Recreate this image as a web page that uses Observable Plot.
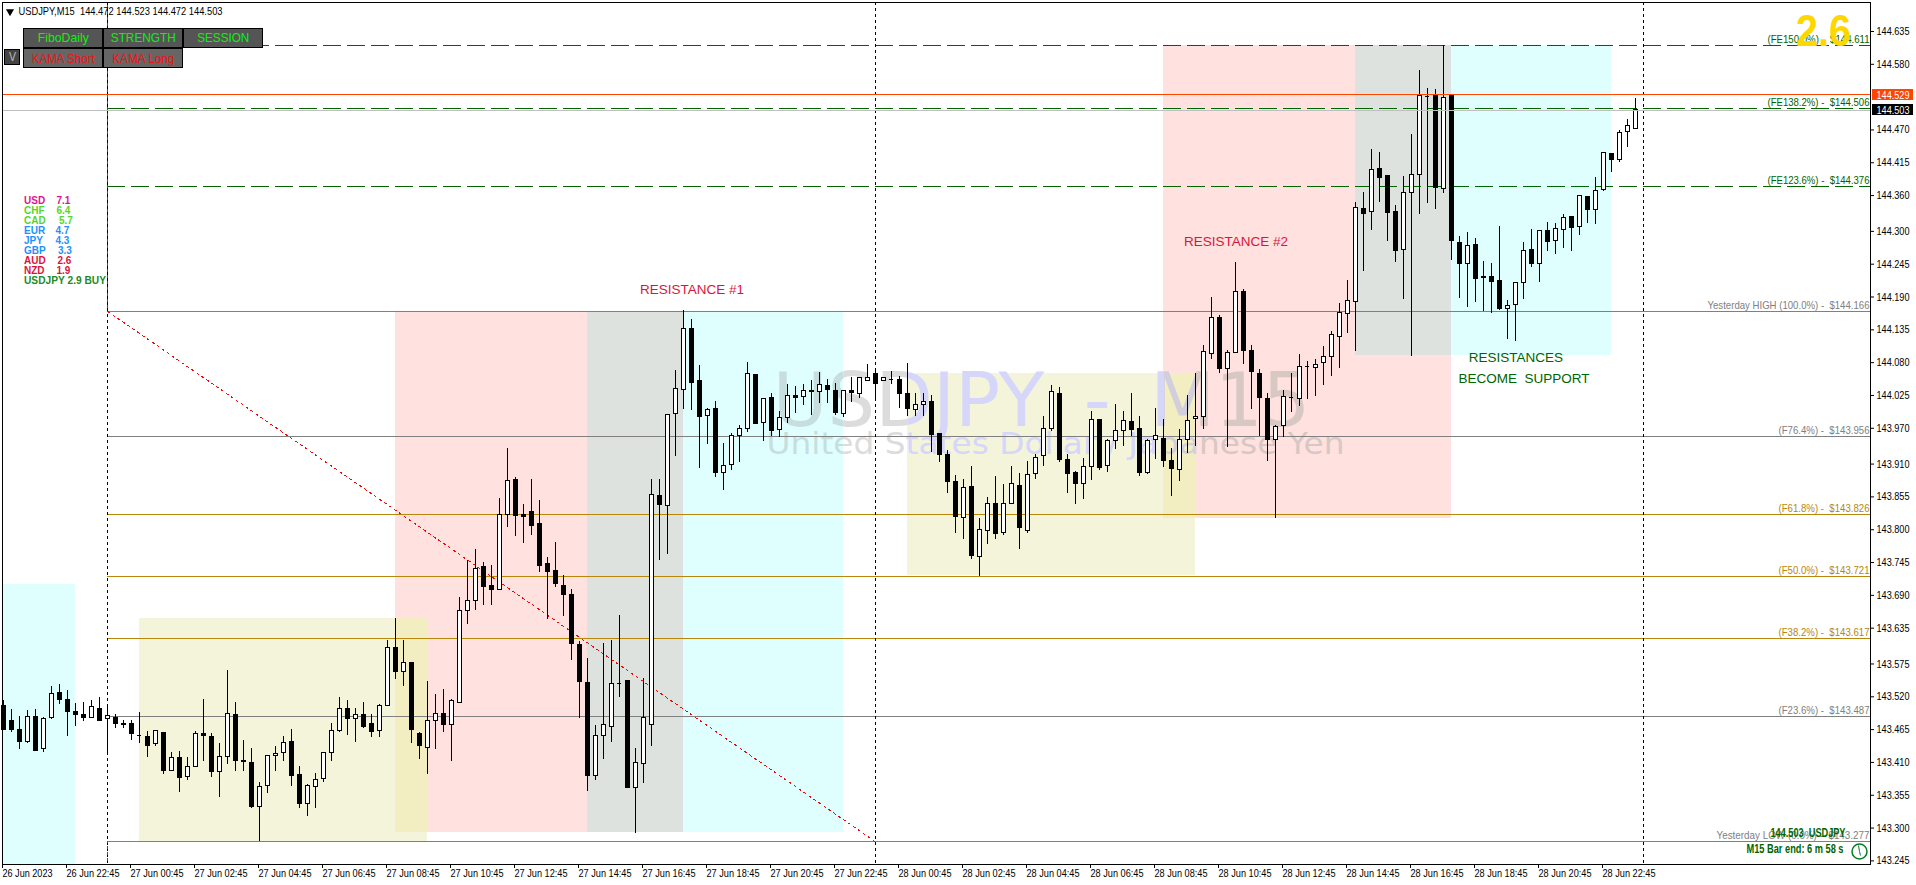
<!DOCTYPE html>
<html><head><meta charset="utf-8">
<script src="https://cdn.jsdelivr.net/npm/d3@7"></script>
<script src="https://cdn.jsdelivr.net/npm/@observablehq/plot@0.6"></script>
<style>html,body{margin:0;padding:0;background:#fff;overflow:hidden}#c{position:relative;width:1916px;height:885px}</style>
</head><body><div id="c"></div>
<script>
const highs=[143.514,143.499,143.487,143.497,143.499,143.485,143.537,143.541,143.531,143.509,
143.510,143.513,143.519,143.505,143.490,143.480,143.480,143.494,143.462,143.464,
143.461,143.426,143.428,143.418,143.462,143.515,143.458,143.441,143.564,143.510,
143.447,143.433,143.376,143.422,143.437,143.453,143.465,143.403,143.373,143.391,
143.427,143.475,143.519,143.514,143.500,143.510,143.490,143.507,143.614,143.651,
143.614,143.576,143.460,143.546,143.524,143.532,143.515,143.686,143.748,143.767,
143.745,143.740,143.852,143.936,143.887,143.842,143.884,143.849,143.753,143.779,
143.724,143.700,143.613,143.584,143.472,143.609,143.614,143.656,143.546,143.433,
143.550,143.884,143.884,143.993,144.067,144.167,144.152,144.075,144.003,144.015,
143.944,143.961,143.974,144.080,144.060,144.019,144.028,143.998,144.043,144.040,
144.043,144.050,144.063,144.052,144.045,144.034,144.055,144.055,144.077,144.067,
144.055,144.065,144.056,144.078,144.028,144.028,144.025,143.961,143.932,143.891,
143.884,143.906,143.818,143.854,143.889,143.876,143.906,143.895,143.914,143.926,
143.990,144.042,144.038,143.926,143.897,143.919,143.998,143.985,143.951,144.010,
143.998,144.028,143.989,143.951,144.003,143.985,143.936,143.968,144.025,144.061,
144.109,144.189,144.159,144.100,144.247,144.202,144.108,144.068,144.028,143.975,
144.034,144.062,144.094,144.082,144.085,144.107,144.132,144.179,144.218,144.348,
144.365,144.437,144.432,144.392,144.343,144.392,144.462,144.570,144.539,144.538,
144.612,144.529,144.291,144.298,144.288,144.250,144.246,144.308,144.184,144.214,
144.281,144.303,144.301,144.315,144.313,144.328,144.325,144.360,144.358,144.390,
144.432,144.429,144.469,144.488,144.523];
const lows=[143.464,143.461,143.431,143.442,143.430,143.427,143.482,143.507,143.453,143.470,
143.479,143.484,143.479,143.423,143.467,143.467,143.447,143.442,143.418,143.436,
143.390,143.395,143.360,143.380,143.402,143.412,143.384,143.352,143.407,143.394,
143.395,143.333,143.277,143.358,143.395,143.412,143.370,143.333,143.319,143.333,
143.377,143.412,143.461,143.455,143.444,143.467,143.452,143.452,143.503,143.549,
143.537,143.442,143.415,143.390,143.431,143.460,143.412,143.509,143.642,143.665,
143.673,143.673,143.698,143.803,143.789,143.777,143.790,143.729,143.650,143.704,
143.655,143.580,143.484,143.362,143.379,143.415,143.444,143.519,143.367,143.291,
143.374,143.436,143.748,143.758,143.923,144.002,144.000,143.902,143.943,143.888,
143.866,143.899,143.913,143.963,143.976,143.948,143.956,143.955,143.978,143.994,
144.008,143.991,144.011,144.011,143.991,143.988,144.013,144.020,144.048,144.020,
144.049,144.044,144.003,143.989,143.989,143.990,143.930,143.913,143.861,143.793,
143.783,143.750,143.722,143.776,143.783,143.791,143.843,143.767,143.793,143.885,
143.906,143.964,143.912,143.860,143.843,143.851,143.882,143.900,143.896,143.935,
143.940,143.956,143.890,143.893,143.917,143.905,143.855,143.881,143.927,143.940,
143.968,144.086,144.062,143.937,144.096,144.077,144.002,143.956,143.915,143.818,
143.955,143.997,144.007,144.018,144.023,144.041,144.057,144.071,144.129,144.098,
144.233,144.302,144.348,144.283,144.247,144.185,144.091,144.329,144.347,144.337,
144.364,144.252,144.188,144.173,144.181,144.166,144.163,144.168,144.118,144.116,
144.185,144.240,144.215,144.266,144.261,144.271,144.266,144.293,144.313,144.312,
144.367,144.399,144.416,144.441,144.472];
const opens=[143.504,143.480,143.465,143.444,143.486,143.433,143.484,143.527,143.515,143.495,
143.489,143.485,143.500,143.483,143.485,143.475,143.475,143.455,143.453,143.441,
143.460,143.396,143.418,143.386,143.403,143.458,143.453,143.394,143.419,143.490,
143.413,143.409,143.336,143.371,143.421,143.426,143.445,143.389,143.340,143.369,
143.383,143.426,143.463,143.500,143.483,143.490,143.474,143.463,143.504,143.602,
143.561,143.576,143.458,143.434,143.480,143.491,143.473,143.510,143.664,143.681,
143.737,143.705,143.699,143.825,143.884,143.825,143.830,143.809,143.742,143.730,
143.706,143.691,143.607,143.543,143.387,143.455,143.470,143.543,143.546,143.367,
143.408,143.473,143.857,143.840,143.994,144.034,144.137,144.050,143.991,144.003,
143.895,143.908,143.957,143.968,144.060,143.979,144.021,143.967,143.987,144.024,
144.023,144.033,144.030,144.041,144.033,143.994,144.033,144.028,144.050,144.061,
144.050,144.051,144.051,144.028,144.001,144.009,144.014,143.961,143.926,143.880,
143.820,143.872,143.754,143.798,143.843,143.795,143.843,143.874,143.798,143.894,
143.924,143.968,144.028,143.917,143.895,143.877,143.905,143.984,143.907,143.949,
143.966,143.981,143.968,143.895,143.951,143.952,143.916,143.900,143.951,143.986,
143.989,144.095,144.154,144.069,144.097,144.199,144.100,144.061,144.019,143.951,
143.973,144.022,144.019,144.074,144.071,144.080,144.090,144.123,144.162,144.181,
144.338,144.333,144.404,144.392,144.332,144.269,144.365,144.394,144.526,144.528,
144.371,144.529,144.281,144.245,144.278,144.224,144.224,144.216,144.170,144.176,
144.213,144.269,144.245,144.301,144.284,144.303,144.324,144.308,144.358,144.335,
144.369,144.429,144.419,144.467,144.472];
const closes=[143.464,143.464,143.445,143.486,143.430,143.483,143.525,143.514,143.494,143.489,
143.484,143.503,143.479,143.488,143.475,143.472,143.457,143.455,143.437,143.462,
143.395,143.418,143.384,143.403,143.458,143.454,143.394,143.419,143.491,143.412,
143.410,143.335,143.369,143.421,143.424,143.443,143.387,143.340,143.371,143.381,
143.426,143.463,143.500,143.483,143.490,143.469,143.461,143.505,143.602,143.561,
143.577,143.464,143.437,143.480,143.491,143.472,143.513,143.664,143.681,143.735,
143.704,143.699,143.825,143.882,143.823,143.822,143.806,143.740,143.729,143.709,
143.690,143.609,143.544,143.387,143.455,143.473,143.542,143.543,143.367,143.409,
143.485,143.858,143.841,143.993,144.036,144.137,144.046,143.989,144.001,143.895,
143.907,143.957,143.968,144.061,143.978,144.019,143.965,143.988,144.024,144.020,
144.033,144.030,144.043,144.034,143.995,144.033,144.029,144.055,144.055,144.045,
144.055,144.051,144.027,144.002,144.009,144.014,143.958,143.925,143.880,143.821,
143.870,143.756,143.800,143.843,143.793,143.843,143.877,143.803,143.892,143.921,
143.969,144.030,143.917,143.893,143.877,143.905,143.984,143.903,143.949,143.965,
143.982,143.967,143.895,143.949,143.957,143.915,143.902,143.951,143.983,143.989,
144.098,144.154,144.069,144.097,144.199,144.099,144.064,144.020,143.951,143.972,
144.023,144.022,144.073,144.074,144.076,144.090,144.127,144.164,144.184,144.340,
144.329,144.403,144.389,144.331,144.267,144.365,144.395,144.527,144.526,144.372,
144.524,144.284,144.245,144.276,144.220,144.222,144.215,144.170,144.175,144.214,
144.267,144.245,144.301,144.282,144.304,144.323,144.305,144.360,144.336,144.368,
144.432,144.419,144.465,144.477,144.503];

const yTicks=[144.635,144.580,144.470,144.415,144.360,144.300,144.245,144.190,144.135,144.080,144.025,143.970,143.910,143.855,143.800,143.745,143.690,143.635,143.575,143.520,143.465,143.410,143.355,143.300,143.245];
const xTickLabels=["26 Jun 2023","26 Jun 22:45","27 Jun 00:45","27 Jun 02:45","27 Jun 04:45","27 Jun 06:45","27 Jun 08:45","27 Jun 10:45","27 Jun 12:45","27 Jun 14:45","27 Jun 16:45","27 Jun 18:45","27 Jun 20:45","27 Jun 22:45","28 Jun 00:45","28 Jun 02:45","28 Jun 04:45","28 Jun 06:45","28 Jun 08:45","28 Jun 10:45","28 Jun 12:45","28 Jun 14:45","28 Jun 16:45","28 Jun 18:45","28 Jun 20:45","28 Jun 22:45"];
const xTicks=xTickLabels.map((_,k)=>k*8);

// session boxes: first bar, last bar, top price, bottom price, colour
const sessionStart=[0,17,49,73,85,113,145,169,181,49,145];
const sessionEnd=[9,53,73,85,105,149,181,181,201,53,149];
const sessionTop=[143.708,143.652,144.166,144.166,144.166,144.062,144.611,144.611,144.611,143.652,144.062];
const sessionBottom=[143.239,143.277,143.293,143.293,143.293,143.723,143.819,144.092,144.092,143.293,143.819];
const sessionColor=["#DFFFFF","#F3F4DA","#FFE1DF","#DEE2DF","#DFFFFF","#F3F4DA","#FFE1DF","#DEE2DF","#DFFFFF","#F3EDC2","#F3EDC2"];

const levelPrice=[144.611,144.506,144.376,144.166,143.956,143.826,143.721,143.617,143.487,143.277];
const levelLabel=["(FE150.0%) -  $144.611","(FE138.2%) -  $144.506","(FE123.6%) -  $144.376","Yesterday HIGH (100.0%) -  $144.166","(F76.4%) -  $143.956","(F61.8%) -  $143.826","(F50.0%) -  $143.721","(F38.2%) -  $143.617","(F23.6%) -  $143.487","Yesterday LOW (0.0%) -  $143.277"];
const levelColor=["#006400","#006400","#006400","#808080","#808080","#B8860B","#B8860B","#B8860B","#808080","#808080"];
const levelLabelWidth=[102,102,102,162,91,91,91,91,91,153];

const daySeparators=[13,109,205];
const currencies=["USD","CHF","CAD","EUR","JPY","GBP","AUD","NZD"];
const strengths=["7.1","6.4","5.7","4.7","4.3","3.3","2.6","1.9"];
const strengthX=[56,56,58.5,55,55,57.5,57,56];
const strengthColor=["#DB1591","#55D52A","#55D52A","#1E90FF","#1E90FF","#1E90FF","#DC143C","#DC143C"];

const buttons=[
 {t:"FiboDaily",a:23.5,b:102,c:28,d:47.5,f:"#555555",k:"#11EE11",w:51},
 {t:"STRENGTH",a:103.5,b:182,c:28,d:47.5,f:"#555555",k:"#11EE11",w:65},
 {t:"SESSION",a:183.5,b:262,c:28,d:47.5,f:"#555555",k:"#11EE11",w:52},
 {t:"KAMA Short",a:23.5,b:102,c:48.5,d:67.5,f:"#666666",k:"#EE1111",w:63},
 {t:"KAMA Long",a:103.5,b:182,c:48.5,d:67.5,f:"#666666",k:"#EE1111",w:62},
 {t:"V",a:4.5,b:19.5,c:49.5,d:64,f:"#444444",k:"#BBBBBB",w:7}];

// furniture placed in pixels, translated to the scales' units
const xAt=p=>(p-3)/8, yAt=p=>144.611-(p-45.3)/596.7;
const bars=d3.range(highs.length);
const sess=d3.range(sessionStart.length);
const lv=d3.range(levelPrice.length);
const cur=d3.range(currencies.length);
const tag=s=>()=>s;
const crisp="crispEdges";

const wmLayers=[[85,105,"#C8DEDE"],[105,113,"#DCDCDC"],[113,145,"#D6D6FA"],[145,149,"#D2CFDC"],[149,181,"#D8C8C4"]];
const wmMarks=wmLayers.flatMap(([a,b,col],k)=>[
  Plot.text(["USDJPY - M15"],{x:xAt(1041),y:yAt(401),text:d=>d,fontSize:75,fontFamily:"DejaVu Sans",fill:col,textAnchor:"middle",ariaLabel:tag("wm"+k)}),
  Plot.text(["United States Dollar / Japanese Yen"],{x:xAt(1055),y:yAt(444),text:d=>d,fontSize:30,fontFamily:"DejaVu Sans",fill:col,textAnchor:"middle",ariaLabel:tag("wm"+k)})
]);

const chart=Plot.plot({
  width:1916,height:885,marginLeft:2,marginTop:2,marginRight:46,marginBottom:21,
  style:{fontFamily:'"Liberation Sans"',fontSize:"11px",background:"#fff",color:"#000",overflow:"visible",maxWidth:"none"},
  x:{type:"linear",domain:[xAt(2),xAt(1870)],axis:null},
  y:{type:"linear",domain:[yAt(864),yAt(2)],axis:null},
  marks:[
    Plot.rect(sess,{x1:i=>sessionStart[i],x2:i=>sessionEnd[i],y1:i=>sessionBottom[i],y2:i=>sessionTop[i],fill:i=>sessionColor[i],shapeRendering:crisp}),
    ...wmMarks,
    Plot.ruleY(lv.filter(i=>i>2),{y:i=>levelPrice[i],x1:13,x2:xAt(1870),stroke:i=>levelColor[i],shapeRendering:crisp}),
    Plot.ruleY(lv.filter(i=>i<=2),{y:i=>levelPrice[i],x1:13,x2:xAt(1870),stroke:i=>levelColor[i],strokeDasharray:"18 6",shapeRendering:crisp}),
    Plot.ruleX(daySeparators,{x:d=>d,stroke:"#000",strokeDasharray:"3 3",shapeRendering:crisp}),
    Plot.ruleX([[yAt(2),144.166],[143.277,yAt(864)]],{x:13,y1:d=>d[1],y2:d=>d[0],stroke:"#FF0000",strokeDasharray:"3 3",strokeDashoffset:3,shapeRendering:crisp}),
    Plot.link([0],{x1:13,y1:144.166,x2:109,y2:143.277,stroke:"#FF0000",strokeDasharray:"3 3",shapeRendering:crisp}),
    Plot.ruleX(bars,{x:i=>i,y1:i=>lows[i],y2:i=>highs[i],stroke:"#000",shapeRendering:crisp}),
    Plot.ruleY(bars.filter(i=>opens[i]===closes[i]),{y:i=>opens[i],x1:i=>i-0.3,x2:i=>i+0.3,stroke:"#000",shapeRendering:crisp}),
    Plot.rect(bars.filter(i=>opens[i]!==closes[i]),{x1:i=>i-0.25,x2:i=>i+0.25,y1:i=>Math.min(opens[i],closes[i]),y2:i=>Math.max(opens[i],closes[i]),dx:0.5,
      fill:i=>closes[i]>opens[i]?"#fff":"#000",stroke:"#000",strokeWidth:1,shapeRendering:crisp}),
    Plot.ruleY([144.529],{y:d=>d,x1:xAt(3),x2:xAt(1870),stroke:"#FF4500",shapeRendering:crisp}),
    Plot.ruleY([144.503],{y:d=>d,x1:xAt(3),x2:xAt(1870),stroke:"#C0C0C0",shapeRendering:crisp}),
    Plot.frame({stroke:"#000"}),
    Plot.axisY({anchor:"right",ticks:yTicks,tickFormat:d3.format(".3f"),tickSize:3,tickPadding:3,label:null,fontSize:11,fill:"#000",stroke:"#000"}),
    Plot.axisX({ticks:xTicks,tickFormat:d=>xTickLabels[d/8],tickSize:4,tickPadding:1,textAnchor:"start",label:null,fontSize:11,fill:"#000",stroke:"#000",dx:-1}),
    Plot.text(lv,{x:xAt(1869),y:i=>yAt(45.3+(144.611-levelPrice[i])*596.7-6),text:i=>levelLabel[i],fill:i=>levelColor[i],textAnchor:"end",fontSize:11,ariaLabel:i=>"levels"}),
    Plot.text(["2.6"],{x:xAt(1823),y:yAt(31.5),text:d=>d,fontSize:44,fontWeight:"bold",fill:"#FFD700",textAnchor:"middle",ariaLabel:tag("gold")}),
    Plot.rect([0],{x1:xAt(1872),x2:xAt(1913),y1:yAt(100),y2:yAt(89),fill:"#FF4500",shapeRendering:crisp}),
    Plot.rect([0],{x1:xAt(1872),x2:xAt(1913),y1:yAt(115),y2:yAt(104),fill:"#000",shapeRendering:crisp}),
    Plot.text(["144.529"],{x:xAt(1876),y:yAt(94.5),text:d=>d,fill:"#fff",textAnchor:"start",fontSize:11,ariaLabel:tag("flag")}),
    Plot.text(["144.503"],{x:xAt(1876),y:yAt(109.5),text:d=>d,fill:"#fff",textAnchor:"start",fontSize:11,ariaLabel:tag("flag")}),
    Plot.text(["RESISTANCE #1"],{x:xAt(691.5),y:yAt(289),text:d=>d,fill:"#DC143C",fontSize:13.5}),
    Plot.text(["RESISTANCE #2"],{x:xAt(1235.5),y:yAt(241),text:d=>d,fill:"#DC143C",fontSize:13.5}),
    Plot.text(["RESISTANCES"],{x:xAt(1515.5),y:yAt(357),text:d=>d,fill:"#006400",fontSize:13.5}),
    Plot.text(["BECOME  SUPPORT"],{x:xAt(1523.5),y:yAt(378),text:d=>d,fill:"#006400",fontSize:13.5}),
    Plot.text(["144.503  USDJPY"],{x:xAt(1770),y:yAt(832),text:d=>d,fill:"#006400",fontWeight:"bold",textAnchor:"start",fontSize:12.5,ariaLabel:tag("bottom0")}),
    Plot.text(["M15 Bar end: 6 m 58 s"],{x:xAt(1746),y:yAt(848),text:d=>d,fill:"#006400",fontWeight:"bold",textAnchor:"start",fontSize:12.5,ariaLabel:tag("bottom1")}),
    Plot.dot([0],{x:xAt(1859),y:yAt(851),r:7.5,fill:"#fff",stroke:"#0A7A2A"}),
    Plot.link([[1859,851,1858,845],[1859,851,1860,855]],{x1:d=>xAt(d[0]),y1:d=>yAt(d[1]),x2:d=>xAt(d[2]),y2:d=>yAt(d[3]),stroke:"#0A7A2A"}),
    Plot.dot([0],{x:xAt(9.5),y:yAt(11),symbol:"triangle",r:3,rotate:180,fill:"#000"}),
    Plot.text(["USDJPY,M15  144.472 144.523 144.472 144.503"],{x:xAt(18),y:yAt(10.5),text:d=>d,textAnchor:"start",fontSize:11,fill:"#000",ariaLabel:tag("title")}),
    Plot.rect(buttons,{x1:d=>xAt(d.a),x2:d=>xAt(d.b),y1:d=>yAt(d.d),y2:d=>yAt(d.c),fill:d=>d.f,stroke:"#000",shapeRendering:crisp}),
    Plot.text(buttons,{x:d=>xAt((d.a+d.b)/2),y:d=>yAt((d.c+d.d)/2),text:"t",fill:"k",fontSize:13,ariaLabel:tag("btn")}),
    Plot.text(cur,{x:xAt(23.5),y:i=>yAt(200+10*i),text:i=>currencies[i],fill:i=>strengthColor[i],fontWeight:"bold",textAnchor:"start",fontSize:10}),
    Plot.text(cur,{x:i=>xAt(strengthX[i]),y:i=>yAt(200+10*i),text:i=>strengths[i],fill:i=>strengthColor[i],fontWeight:"bold",textAnchor:"start",fontSize:10}),
    Plot.text(["USDJPY 2.9 BUY"],{x:xAt(23.5),y:yAt(280),text:d=>d,fill:"#228B22",fontWeight:"bold",textAnchor:"start",fontSize:10,ariaLabel:tag("buy")})
  ]
});
document.getElementById("c").appendChild(chart);

const svg=d3.select(chart);
const fit=(sel,w)=>svg.selectAll(sel).attr("textLength",w).attr("lengthAdjust","spacingAndGlyphs");
fit('g[aria-label="y-axis tick label"] text',33);
fit('g[aria-label="x-axis tick label"] text',(d,i,n)=>n[i].textContent.endsWith("2023")?50:53);
fit('text[aria-label="flag"]',33);
fit('text[aria-label="title"]',204);
fit('text[aria-label="bottom0"]',75);
fit('text[aria-label="bottom1"]',97);
fit('text[aria-label="buy"]',82);
fit('text[aria-label="gold"]',55);
svg.selectAll('text[aria-label="levels"]').each(function(_,k){
  const n=lv.find(i=>levelLabel[i]===this.textContent);
  d3.select(this).attr("textLength",levelLabelWidth[n]).attr("lengthAdjust","spacingAndGlyphs");});
svg.selectAll('text[aria-label="btn"]').each(function(){
  const b=buttons.find(d=>d.t===this.textContent);
  d3.select(this).attr("textLength",b.w).attr("lengthAdjust","spacingAndGlyphs");});
const sx=chart.scale("x");
const defs=svg.append("defs");
wmLayers.forEach(([a,b],k)=>{
  defs.append("clipPath").attr("id","wmc"+k).append("rect")
    .attr("x",sx.apply(a)).attr("width",sx.apply(b)-sx.apply(a)).attr("y",0).attr("height",885);
  svg.selectAll(`text[aria-label="wm${k}"]`).each(function(){
    this.parentNode.setAttribute("clip-path",`url(#wmc${k})`);
    const t=d3.select(this);
    if(this.textContent.startsWith("USDJPY")) t.attr("word-spacing",15.5);
    else t.attr("textLength",578).attr("lengthAdjust","spacingAndGlyphs");
  });
});
</script></body></html>
